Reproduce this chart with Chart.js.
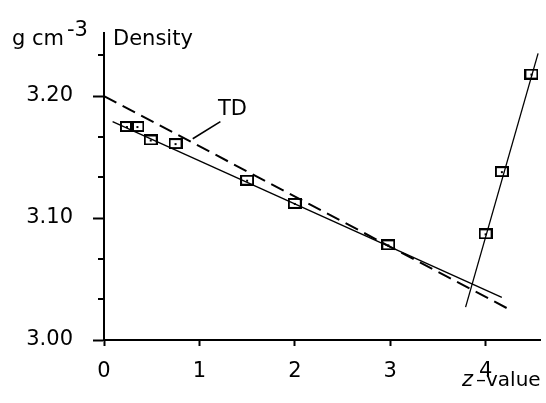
<!DOCTYPE html>
<html>
<head>
<meta charset="utf-8">
<script src="https://cdn.jsdelivr.net/npm/chart.js@4"></script>
<style>
  html, body { margin: 0; padding: 0; background: #fff; }
  canvas { display: block; }
</style>
</head>
<body>
<canvas id="grafico" width="546" height="403"></canvas>
<script>
// valores
const puntosZ = [0.24, 0.35, 0.49, 0.75, 1.50, 2.00, 2.98, 4.00, 4.17, 4.48];
const puntosDensidad = [3.175, 3.175, 3.164, 3.161, 3.131, 3.112, 3.078, 3.087, 3.138, 3.218];

// recta de ajuste (continua)
const ajusteZ = [0.09, 4.17];
const ajusteDensidad = [3.179, 3.035];

// recta TD (discontinua)
const tdZ = [0, 4.25];
const tdDensidad = [3.200, 3.025];

// recta empinada a la derecha
const empinadaZ = [3.79, 4.55];
const empinadaDensidad = [3.027, 3.235];

// línea guía de la etiqueta TD
const guiaZ = [0.93, 1.22];
const guiaDensidad = [3.165, 3.179];

const ticksX = [0, 1, 2, 3, 4];
const ticksY = [3.00, 3.10, 3.20];
const ticksYMenores = [3.0333, 3.0667, 3.1333, 3.1667, 3.2333];

const fuente = "'DejaVu Sans', sans-serif";
const ctx = document.getElementById("grafico");

function pares(xs, ys) {
  return xs.map((x, i) => ({ x: x, y: ys[i] }));
}

// marcador rectangular con punto al centro
function marcador() {
  const c = document.createElement("canvas");
  c.width = 14;
  c.height = 11;
  const g = c.getContext("2d");
  g.strokeStyle = "#000";
  g.lineWidth = 2;
  g.strokeRect(1, 1, 12, 9);
  g.fillStyle = "#000";
  g.fillRect(6, 5, 2, 2);
  return c;
}

function recta(datos, ancho, guiones) {
  return {
    data: datos,
    showLine: true,
    borderColor: "#000",
    borderWidth: ancho,
    borderDash: guiones || [],
    pointRadius: 0,
    fill: false
  };
}

// ticks menores y textos
const extras = {
  id: "extras",
  afterDraw(chart) {
    const c = chart.ctx;
    const y = chart.scales.y;
    c.save();
    c.strokeStyle = "#000";
    c.lineWidth = 2;
    ticksYMenores.forEach(v => {
      const py = Math.round(y.getPixelForValue(v));
      c.beginPath();
      c.moveTo(y.right - 6, py);
      c.lineTo(y.right, py);
      c.stroke();
    });

    c.fillStyle = "#000";
    c.textBaseline = "alphabetic";
    c.textAlign = "left";
    c.font = `21px ${fuente}`;
    c.fillText("g cm", 12, 45);
    c.fillText("Density", 113, 45);
    c.fillText("TD", 218, 115);
    c.font = `21px ${fuente}`;
    c.fillText("-3", 67, 36);
    c.font = `italic 21px ${fuente}`;
    c.fillText("z", 462, 386);
    c.font = `20px ${fuente}`;
    c.fillText("–value", 476, 386);
    c.restore();
  }
};

new Chart(ctx, {
  type: "scatter",
  data: {
    datasets: [
      recta(pares(tdZ, tdDensidad), 2, [14, 7]),
      recta(pares(ajusteZ, ajusteDensidad), 1.4),
      recta(pares(empinadaZ, empinadaDensidad), 1.3),
      recta(pares(guiaZ, guiaDensidad), 1.6),
      {
        data: pares(puntosZ, puntosDensidad),
        showLine: false,
        pointStyle: marcador(),
        pointRadius: 5
      }
    ]
  },
  options: {
    responsive: false,
    animation: false,
    events: [],
    layout: { padding: { left: 0, top: 32, right: 6, bottom: 0 } },
    plugins: {
      legend: { display: false },
      tooltip: { enabled: false }
    },
    scales: {
      x: {
        type: "linear",
        min: 0,
        max: 4.57,
        afterBuildTicks: s => { s.ticks = ticksX.map(v => ({ value: v })); },
        afterFit: s => { s.height = 63; },
        grid: { drawOnChartArea: false, tickLength: 6, tickWidth: 2, tickColor: "#000" },
        border: { display: true, color: "#000", width: 2 },
        ticks: {
          color: "#000",
          font: { family: fuente, size: 21 },
          padding: 13,
          maxRotation: 0,
          callback: v => String(v)
        }
      },
      y: {
        type: "linear",
        min: 3.0,
        max: 3.252,
        afterBuildTicks: s => { s.ticks = ticksY.map(v => ({ value: v })); },
        afterFit: s => { s.width = 104; },
        grid: { drawOnChartArea: false, tickLength: 11, tickWidth: 2, tickColor: "#000" },
        border: { display: true, color: "#000", width: 2 },
        ticks: {
          color: "#000",
          font: { family: fuente, size: 21 },
          padding: 20,
          callback: v => v.toFixed(2)
        }
      }
    }
  },
  plugins: [extras]
});
</script>
</body>
</html>
